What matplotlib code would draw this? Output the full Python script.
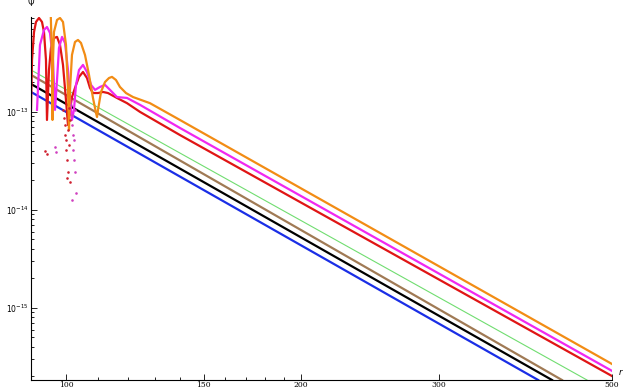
import matplotlib
matplotlib.use("Agg")
import matplotlib.pyplot as plt
from matplotlib.ticker import FixedLocator, NullFormatter, FixedFormatter

# ---- data ----
r_blue = [90.2, 402.2]
psi_blue = [1.60e-13, 1.84e-16]
r_black = [90.2, 419.0]
psi_black = [1.93e-13, 1.84e-16]
r_brown = [90.2, 431.5]
psi_brown = [2.39e-13, 1.84e-16]
r_green = [90.2, 464.5]
psi_green = [2.68e-13, 1.84e-16]

r_red = [90.20, 90.47, 91.01, 91.54, 92.35, 93.17, 93.72, 94.27, 94.55, 95.11,
         95.67, 96.52, 97.39, 98.25, 99.12, 100.0, 100.59, 101.19, 101.78, 102.69,
         103.91, 105.14, 106.38, 107.33, 108.28, 109.90, 111.53, 113.18, 116.21,
         119.70, 124.42, 139.90, 500]
psi_red = [1.05e-13, 3.40e-13, 6.55e-13, 8.29e-13, 9.10e-13, 8.29e-13, 6.55e-13,
           3.40e-13, 8.29e-14, 2.68e-13, 4.50e-13, 5.69e-13, 5.83e-13, 4.83e-13,
           3.02e-13, 1.32e-13, 7.36e-14, 1.05e-13, 1.42e-13, 1.76e-13, 2.28e-13,
           2.56e-13, 2.22e-13, 1.76e-13, 1.56e-13, 1.56e-13, 1.60e-13, 1.56e-13,
           1.39e-13, 1.23e-13, 1.00e-13, 5.82e-14, 2.02e-16]

r_magenta = [91.81, 92.62, 93.72, 94.55, 95.39, 96.24, 96.81, 97.39, 97.96, 98.83,
             99.71, 100.59, 101.19, 101.78, 102.38, 102.99, 103.91, 105.14, 106.38,
             107.65, 108.93, 110.55, 112.18, 113.85, 116.21, 119.70, 124.42, 139.90,
             500]
psi_magenta = [1.05e-13, 4.83e-13, 6.87e-13, 7.36e-13, 6.40e-13, 3.40e-13, 1.05e-13,
               2.12e-13, 4.50e-13, 5.83e-13, 5.06e-13, 2.68e-13, 1.42e-13, 8.29e-14,
               1.05e-13, 1.89e-13, 2.68e-13, 3.02e-13, 2.56e-13, 1.89e-13, 1.68e-13,
               1.80e-13, 1.89e-13, 1.68e-13, 1.42e-13, 1.39e-13, 1.18e-13, 6.87e-14,
               2.28e-16]

r_orange = [95.53, 95.96, 96.10, 96.24, 96.52, 97.39, 98.25, 99.12, 100.0, 100.59,
            100.89, 101.19, 101.78, 102.69, 103.60, 104.52, 105.76, 107.02, 108.28,
            109.25, 109.58, 109.90, 110.87, 112.18, 113.51, 114.52, 115.87, 117.24,
            119.34, 121.85, 128.07, 139.90, 500]
psi_orange = [1.24e-12, 3.40e-13, 8.29e-14, 3.40e-13, 6.55e-13, 8.69e-13, 9.10e-13,
              8.29e-13, 4.83e-13, 1.68e-13, 6.55e-14, 1.68e-13, 3.82e-13, 5.18e-13,
              5.43e-13, 5.06e-13, 3.82e-13, 2.39e-13, 1.39e-13, 9.77e-14, 8.89e-14,
              1.05e-13, 1.60e-13, 2.02e-13, 2.22e-13, 2.28e-13, 2.12e-13, 1.80e-13,
              1.56e-13, 1.42e-13, 1.23e-13, 8.29e-14, 2.68e-16]

dots_red_r = [94.00, 94.55, 99.12, 99.41, 99.71, 99.71, 100.0, 100.0, 100.29, 100.29,
              100.59, 100.59, 100.89, 101.19, 101.19, 100.89]
dots_red_psi = [4.00e-14, 3.73e-14, 1.05e-13, 8.69e-14, 7.36e-14, 5.82e-14, 5.18e-14,
                4.09e-14, 3.24e-14, 2.12e-14, 2.45e-14, 6.55e-14, 4.61e-14, 1.93e-14,
                8.29e-14, 1.10e-13]
dots_mag_r = [96.81, 97.10, 101.48, 101.78, 101.78, 102.08, 102.08, 102.38, 102.38,
              102.69, 102.99, 101.78, 102.69]
dots_mag_psi = [4.39e-14, 3.91e-14, 1.18e-13, 9.32e-14, 7.36e-14, 5.82e-14, 4.09e-14,
                3.24e-14, 5.18e-14, 2.45e-14, 1.49e-14, 1.27e-14, 1.05e-13]

x_major = [100, 150, 200, 300, 500]
x_minor = [90, 110, 120, 130, 140, 160, 170, 180, 190]
y_major = [1e-13, 1e-14, 1e-15]
y_minor = [m * 10.0 ** e for e in (-16, -15, -14, -13) for m in range(2, 10)]
y_labels = [r"$10^{-13}$", r"$10^{-14}$", r"$10^{-15}$"]

fig = plt.figure(figsize=(6.23, 3.89), dpi=100)
ax = fig.add_axes([31/623, 9/389, 581/623, 363/389])
ax.set_xscale("log")
ax.set_yscale("log")

ax.plot(r_blue, psi_blue, color="#1a2ee6", lw=1.6)
ax.plot(r_black, psi_black, color="black", lw=1.6)
ax.plot(r_brown, psi_brown, color="#a07a55", lw=1.6)
ax.plot(r_green, psi_green, color="#70dd70", lw=0.8)
ax.plot(r_red, psi_red, color="#e01515", lw=1.6)
ax.plot(r_magenta, psi_magenta, color="#f028f0", lw=1.6)
ax.plot(r_orange, psi_orange, color="#f28c14", lw=1.6)
ax.scatter(dots_red_r, dots_red_psi, s=3.5, color="#d02030", zorder=5, linewidths=0)
ax.scatter(dots_mag_r, dots_mag_psi, s=3.5, color="#d040c0", zorder=5, linewidths=0)

ax.set_xlim(90.2, 500)
ax.set_ylim(10**-15.735, 10**-12.031)

for s in ["top", "right"]:
    ax.spines[s].set_visible(False)
for s in ["left", "bottom"]:
    ax.spines[s].set_linewidth(0.8)
ax.xaxis.set_major_locator(FixedLocator(x_major))
ax.xaxis.set_minor_locator(FixedLocator(x_minor))
ax.xaxis.set_major_formatter(FixedFormatter([str(v) for v in x_major]))
ax.xaxis.set_minor_formatter(NullFormatter())
ax.yaxis.set_major_locator(FixedLocator(y_major))
ax.yaxis.set_minor_locator(FixedLocator(y_minor))
ax.yaxis.set_major_formatter(FixedFormatter(y_labels))
ax.yaxis.set_minor_formatter(NullFormatter())
ax.tick_params(axis="both", which="both", direction="in", labelsize=5.5, width=0.6)
ax.tick_params(which="major", length=4)
ax.tick_params(which="minor", length=2)
ax.tick_params(axis="x", pad=1)
ax.tick_params(axis="y", pad=2)
for lab in ax.get_xticklabels() + ax.get_yticklabels():
    lab.set_family("DejaVu Serif")
ax.text(0.0, 1.025, "Ψ", transform=ax.transAxes, fontsize=6, ha="center", va="bottom")
ax.text(1.012, 0.022, "r", transform=ax.transAxes, fontsize=6, ha="left", va="center",
        style="italic")

fig.savefig("out.png", dpi=100)
